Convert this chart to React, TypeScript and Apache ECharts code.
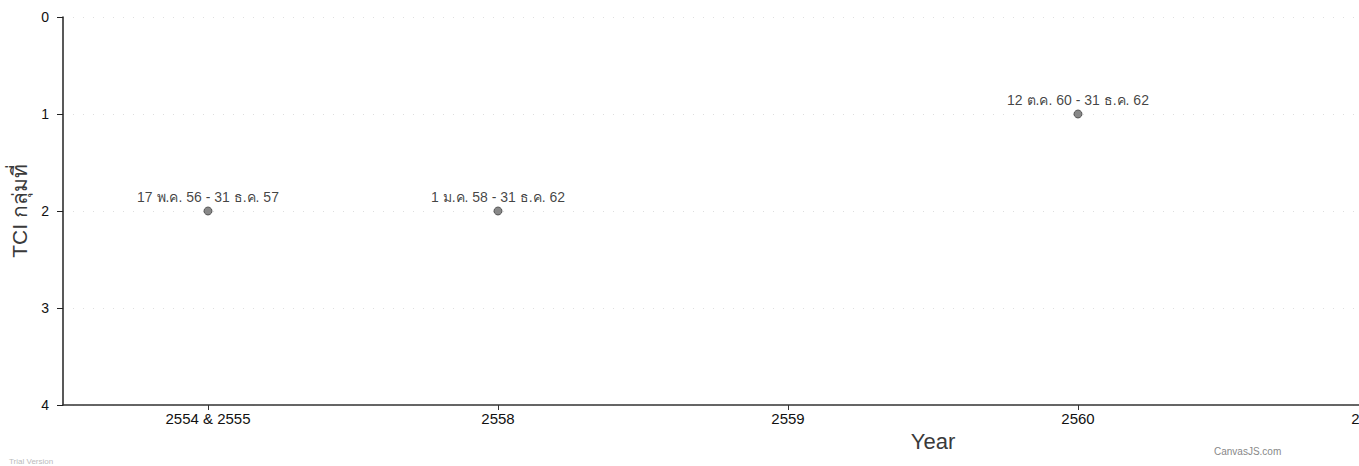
import React, { useEffect, useRef } from "react";
import * as echarts from "echarts";

const categories = ["2554 & 2555", "2558", "2559", "2560", "2561", "2562"];
const tciValues: (number | null)[] = [2, 2, null, 1, null, null];
const pointLabels = [
  "17 พ.ค. 56 - 31 ธ.ค. 57",
  "1 ม.ค. 58 - 31 ธ.ค. 62",
  "",
  "12 ต.ค. 60 - 31 ธ.ค. 62",
  "",
  "",
];
const yTicks = [0, 1, 2, 3, 4];

const FONT = "'Liberation Sans', Arial, 'Noto Sans', sans-serif";

export default function App() {
  const ref = useRef<HTMLDivElement>(null);
  useEffect(() => {
    if (!ref.current) return;
    const chart = echarts.init(ref.current, undefined, { renderer: "svg" });
    chart.setOption({
      animation: false,
      backgroundColor: "#ffffff",
      textStyle: { fontFamily: FONT },
      grid: { left: 63, top: 17, width: 1740, height: 388, containLabel: false },
      xAxis: {
        type: "category",
        position: "bottom",
        data: categories,
        boundaryGap: true,
        name: "Year",
        nameLocation: "middle",
        nameGap: 22,
        nameTextStyle: { fontSize: 22, color: "#3a3a3a", fontFamily: FONT },
        axisLine: { show: true, onZero: false, lineStyle: { color: "#333", width: 1.5 } },
        axisTick: { show: true, alignWithLabel: true, length: 5, lineStyle: { color: "#333" } },
        axisLabel: { fontSize: 15, color: "#111", margin: 6, fontFamily: FONT },
        splitLine: { show: false },
      },
      yAxis: {
        type: "value",
        inverse: true,
        min: yTicks[0],
        max: yTicks[yTicks.length - 1],
        interval: 1,
        name: "TCI กลุ่มที่",
        nameLocation: "middle",
        nameGap: 30,
        nameTextStyle: { fontSize: 21, color: "#3a3a3a", fontFamily: FONT },
        axisLine: { show: true, onZero: false, lineStyle: { color: "#222", width: 1.5 } },
        axisTick: { show: true, length: 6, lineStyle: { color: "#222" } },
        axisLabel: { fontSize: 14, color: "#111", margin: 14, fontFamily: FONT },
        splitLine: { show: true, lineStyle: { color: "#dedede", type: [1, 9], width: 1 } },
      },
      series: [
        {
          type: "scatter",
          data: tciValues.map((v, i) => (v == null ? null : [categories[i], v])),
          symbol: "circle",
          symbolSize: 8,
          itemStyle: { color: "#6a6a6a", borderColor: "#444", borderWidth: 1 },
          label: {
            show: true,
            position: "top",
            distance: 3,
            fontSize: 14,
            color: "#111",
            fontFamily: FONT,
            formatter: (p: any) => pointLabels[p.dataIndex] || "",
          },
        },
      ],
      graphic: [
        {
          type: "text",
          left: 1214,
          top: 446,
          style: { text: "CanvasJS.com", fontSize: 10, fill: "#888", fontFamily: FONT },
        },
        {
          type: "text",
          left: 9,
          top: 457,
          style: { text: "Trial Version", fontSize: 8, fill: "#bbb", fontFamily: FONT },
        },
      ],
    });
    return () => chart.dispose();
  }, []);
  return (
    <div
      style={{
        position: "fixed",
        left: 0,
        top: 0,
        width: 1359,
        height: 466,
        overflow: "hidden",
        background: "#fff",
      }}
    >
      <div ref={ref} style={{ width: 1830, height: 466 }} />
    </div>
  );
}
